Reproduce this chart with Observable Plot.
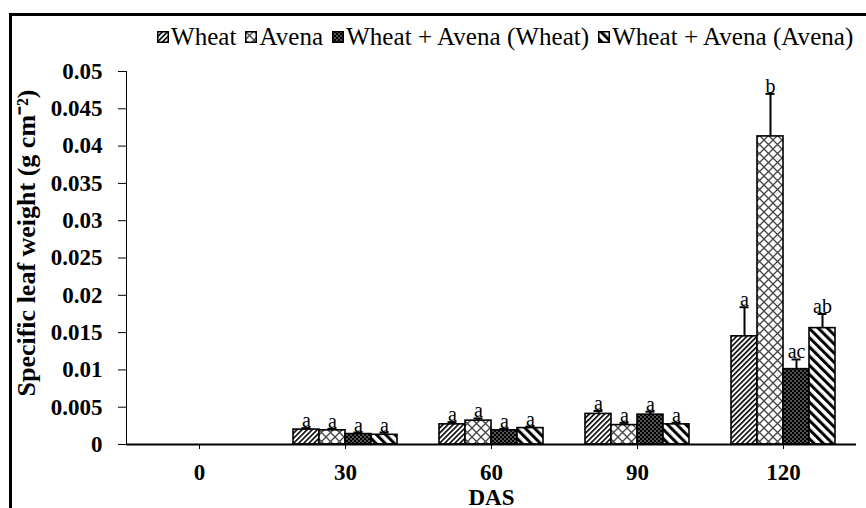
<!DOCTYPE html>
<html><head><meta charset="utf-8">
<script src="https://cdn.jsdelivr.net/npm/d3@7"></script>
<script src="https://cdn.jsdelivr.net/npm/@observablehq/plot@0.6"></script>
<style>
html,body{margin:0;padding:0;background:#fff;overflow:hidden;width:866px;height:508px;}
#wrap{position:relative;width:866px;height:508px;overflow:hidden;}
#border{position:absolute;left:9px;top:13px;width:1000px;height:1000px;border:3px solid #000;pointer-events:none;}
#legend{height:30px;padding-top:20px;padding-left:157px;line-height:30px;white-space:nowrap;font-family:"Liberation Serif","Times New Roman",serif;font-size:25px;letter-spacing:0.05px;color:#000;}
.item{display:inline-flex;align-items:center;margin-right:9px;}
.item svg{margin-right:2px;}
</style>
</head><body>
<svg width="0" height="0" style="position:absolute">
  <defs>
    <pattern id="pWheat" width="3.6" height="3.6" patternUnits="userSpaceOnUse" patternTransform="rotate(45)">
      <rect width="3.6" height="3.6" fill="#fff"/><rect width="1.6" height="3.6" fill="#000"/>
    </pattern>
    <pattern id="pAvena" width="9" height="9" patternUnits="userSpaceOnUse">
      <rect width="9" height="9" fill="#fff"/>
      <path d="M0,0L9,9M9,0L0,9" stroke="#444" stroke-width="1.3"/>
    </pattern>
    <pattern id="pMixW" width="4" height="4" patternUnits="userSpaceOnUse">
      <rect width="4" height="4" fill="#000"/>
      <circle cx="1" cy="1" r="0.8" fill="#bbb"/><circle cx="3" cy="3" r="0.8" fill="#bbb"/>
    </pattern>
    <pattern id="pMixA" width="6.5" height="6.5" patternUnits="userSpaceOnUse" patternTransform="rotate(-45)">
      <rect width="6.5" height="6.5" fill="#fff"/><rect width="3" height="6.5" fill="#000"/>
    </pattern>
  </defs>
</svg>
<div id="wrap">
  <div id="legend"></div>
  <div id="chart"></div>
  <div id="border"></div>
</div>
<script>
// ---- data ----
const das = [0, 30, 60, 90, 120];
const treatments = ["Wheat", "Avena", "Wheat + Avena (Wheat)", "Wheat + Avena (Avena)"];
const patterns = ["url(#pWheat)", "url(#pAvena)", "url(#pMixW)", "url(#pMixA)"];

const wheat    = [0, 0.0020, 0.0027, 0.0041, 0.0145];
const avena    = [0, 0.0019, 0.0032, 0.0026, 0.0413];
const mixWheat = [0, 0.0014, 0.0019, 0.0040, 0.0101];
const mixAvena = [0, 0.0013, 0.0022, 0.0027, 0.0156];

const wheatErr    = [0, 0.0002, 0.0003, 0.0004, 0.0039];
const avenaErr    = [0, 0.0002, 0.0003, 0.0003, 0.0057];
const mixWheatErr = [0, 0.0002, 0.0002, 0.0004, 0.0013];
const mixAvenaErr = [0, 0.0003, 0.0002, 0.0002, 0.0019];

const wheatLetters    = ["", "a", "a", "a", "a"];
const avenaLetters    = ["", "a", "a", "a", "b"];
const mixWheatLetters = ["", "a", "a", "a", "ac"];
const mixAvenaLetters = ["", "a", "a", "a", "ab"];

const yTicks = [0, 0.005, 0.01, 0.015, 0.02, 0.025, 0.03, 0.035, 0.04, 0.045, 0.05];
const yTickLabels = ["0", "0.005", "0.01", "0.015", "0.02", "0.025", "0.03", "0.035", "0.04", "0.045", "0.05"];
const yTitle = "Specific leaf weight (g cm⁻²)";
const xTitle = "DAS";

// ---- table ----
const seriesVals = [wheat, avena, mixWheat, mixAvena];
const seriesErr = [wheatErr, avenaErr, mixWheatErr, mixAvenaErr];
const seriesLet = [wheatLetters, avenaLetters, mixWheatLetters, mixAvenaLetters];
const rows = [];
treatments.forEach((t, k) => das.forEach((d, i) => rows.push({
  das: d, treatment: t, k, value: seriesVals[k][i], err: seriesErr[k][i], letter: seriesLet[k][i]
})));

// ---- legend ----
const legend = document.getElementById("legend");
treatments.forEach((t, k) => {
  const item = document.createElement("span");
  item.className = "item";
  item.innerHTML = `<svg width="12" height="12"><rect x="0.75" y="0.75" width="10.5" height="10.5" fill="${patterns[k]}" stroke="#000" stroke-width="1.5"/></svg><span>${t}</span>`;
  legend.appendChild(item);
});

// ---- chart ----
const marks = [];
treatments.forEach((t, k) => {
  marks.push(Plot.barY(rows.filter(r => r.k === k), {
    x: "treatment", fx: "das", y: "value",
    fill: patterns[k], stroke: "#000", strokeWidth: 1.6
  }));
});
const withErr = rows.filter(r => r.err > 0);
marks.push(Plot.ruleX(withErr, {x: "treatment", fx: "das", y1: "value", y2: r => r.value + r.err, stroke: "#000", strokeWidth: 2}));
marks.push(Plot.tickY(withErr, {x: "treatment", fx: "das", y: r => r.value + r.err, stroke: "#000", strokeWidth: 2, insetLeft: 8.5, insetRight: 8.5}));
marks.push(Plot.text(rows.filter(r => r.letter !== ""), {
  x: "treatment", fx: "das", y: r => r.value + r.err, text: "letter",
  lineAnchor: "bottom", dy: -1, fontSize: 20, fontWeight: "normal", fill: "#000"
}));
marks.push(Plot.ruleY([0], {stroke: "#000", strokeWidth: 2}));

const chart = Plot.plot({
  width: 866, height: 458,
  marginTop: 21, marginBottom: 64, marginLeft: 126, marginRight: 10,
  style: {fontFamily: '"Liberation Serif","Times New Roman",serif', fontSize: "23px", fontWeight: "bold", color: "#000", background: "transparent"},
  fx: {domain: das, padding: 0, axis: "bottom", tickSize: 5, tickPadding: 14, label: xTitle, labelAnchor: "center", labelOffset: 60},
  x: {domain: treatments, paddingInner: 0, paddingOuter: 0.73, axis: null},
  y: {domain: [0, 0.05], ticks: yTicks, tickFormat: (d) => yTickLabels[yTicks.indexOf(d)], tickSize: 8, tickPadding: 16,
      label: yTitle, labelArrow: "none", labelAnchor: "center", labelOffset: 110, line: true},
  marks
});
document.getElementById("chart").appendChild(chart);

// enlarge / nudge the y-axis title, strip any arrow
d3.select(chart).selectAll('g[aria-label="y-axis label"] text')
  .text(yTitle)
  .style("font-size", "26px")
  .attr("dx", 15);
</script>
</body></html>
